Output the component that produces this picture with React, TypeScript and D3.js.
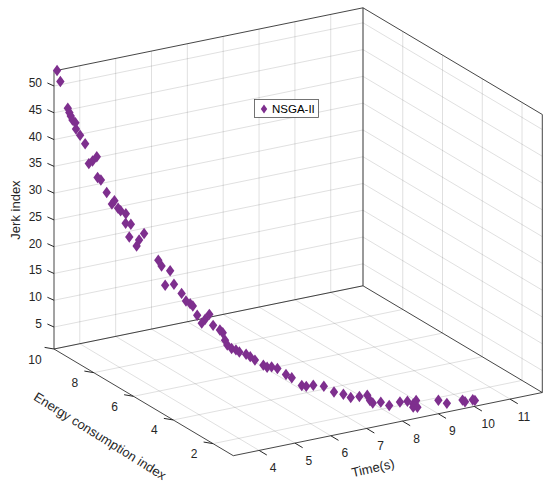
import * as d3 from "d3";

// Pareto front: time (s), energy index, jerk index
const timeS = [
  3.36, 3.38, 3.41, 3.42, 3.42, 3.43, 3.45, 3.45, 3.47, 3.5, 3.52, 3.54, 3.57, 3.57, 3.59, 3.63,
  3.67, 3.69, 3.71, 3.73, 3.77, 3.77, 3.81, 3.8, 3.86, 3.88, 3.93, 4.06, 4.09, 4.18, 4.13, 4.22,
  4.3, 4.35, 4.4, 4.43, 4.48, 4.54, 4.58, 4.63, 4.68, 4.77, 4.81, 4.84, 4.87, 4.93, 4.99, 5.04,
  5.14, 5.2, 5.27, 5.4, 5.46, 5.53, 5.63, 5.77, 5.87, 6.05, 6.13, 6.26, 6.46, 6.66, 6.85, 7.0,
  7.18, 7.35, 7.41, 7.47, 7.65, 7.84, 8.09, 8.27, 8.41, 8.48, 8.41, 8.51, 9.04, 9.26, 9.68, 9.75,
  9.96, 10.02,
];
const energyIdx = [
  9.99, 9.86, 9.54, 9.48, 9.41, 9.34, 9.23, 9.2, 9.03, 8.83, 8.68, 8.53, 8.37, 8.33, 8.2, 7.98,
  7.79, 7.7, 7.55, 7.46, 7.27, 7.28, 7.09, 7.15, 6.89, 6.8, 6.64, 6.16, 6.05, 5.78, 5.94, 5.66,
  5.42, 5.29, 5.17, 5.09, 4.96, 4.84, 4.74, 4.62, 4.52, 4.34, 4.27, 4.21, 4.15, 4.04, 3.93, 3.85,
  3.69, 3.59, 3.48, 3.29, 3.21, 3.11, 3.0, 2.82, 2.71, 2.53, 2.45, 2.33, 2.16, 2.01, 1.88, 1.78,
  1.67, 1.58, 1.55, 1.52, 1.44, 1.36, 1.27, 1.22, 1.18, 1.16, 1.18, 1.15, 1.05, 1.02, 0.99, 0.99,
  0.98, 0.98,
];
const jerkIdx = [
  52.8, 51.0, 46.7, 46.0, 45.5, 44.9, 44.6, 43.5, 42.7, 41.5, 38.1, 38.9, 40.0, 36.2, 36.0, 34.1,
  32.3, 33.1, 32.0, 31.7, 31.5, 29.7, 29.9, 27.4, 26.2, 27.5, 29.0, 24.9, 24.0, 23.6, 20.6, 21.3,
  20.0, 18.8, 18.5, 18.2, 16.7, 15.4, 16.3, 17.4, 15.5, 14.9, 14.5, 13.2, 12.4, 11.9, 11.8, 11.5,
  11.3, 11.0, 10.5, 9.8, 9.5, 9.7, 9.5, 8.6, 8.1, 6.8, 6.7, 7.0, 6.9, 5.9, 5.5, 4.9,
  5.1, 5.3, 4.3, 3.8, 3.9, 3.2, 3.7, 3.7, 3.1, 3.7, 2.5, 2.4, 3.2, 2.4, 2.5, 2.1,
  2.2, 2.0,
];

const timeTicks = [4, 5, 6, 7, 8, 9, 10, 11];
const energyTicks = [2, 4, 6, 8, 10];
const jerkTicks = [5, 10, 15, 20, 25, 30, 35, 40, 45, 50];

const timeLim: [number, number] = [3.28, 11.9];
const energyLim: [number, number] = [0.98, 10];
const jerkLim: [number, number] = [0.9, 52.8];

const seriesName = "NSGA-II";
const purple = "#7E2F8E";
const axisColor = "#262626";
const font = "'Liberation Sans', Arial, Helvetica, sans-serif";

// orthographic view: screen position of the (tmin, emin, zmin) corner and axis vectors
const origin = { x: 233.3, y: 455.7 };
const tVec = { x: 309, y: -63.2 };
const eVec = { x: -179.3, y: -106.7 };
const zLen = 278;

const tS = d3.scaleLinear().domain(timeLim).range([0, 1]);
const eS = d3.scaleLinear().domain(energyLim).range([0, 1]);
const zS = d3.scaleLinear().domain(jerkLim).range([0, 1]);

function proj(t: number, e: number, z: number): [number, number] {
  const a = tS(t), b = eS(e), c = zS(z);
  return [origin.x + a * tVec.x + b * eVec.x, origin.y + a * tVec.y + b * eVec.y - c * zLen];
}

function seg(p: [number, number], q: [number, number]) {
  return `M${p[0]},${p[1]}L${q[0]},${q[1]}`;
}

function diamond(w: number, h: number) {
  return `M0,${-h}L${w},0L0,${h}L${-w},0Z`;
}

export default function App() {
  const [t0, t1] = timeLim;
  const [e0, e1] = energyLim;
  const [z0, z1] = jerkLim;

  // grid on the floor and the two back walls
  const grid: string[] = [];
  timeTicks.forEach((t) => {
    grid.push(seg(proj(t, e0, z0), proj(t, e1, z0)));
    grid.push(seg(proj(t, e1, z0), proj(t, e1, z1)));
  });
  energyTicks.forEach((e) => {
    grid.push(seg(proj(t0, e, z0), proj(t1, e, z0)));
    grid.push(seg(proj(t1, e, z0), proj(t1, e, z1)));
  });
  jerkTicks.forEach((z) => {
    grid.push(seg(proj(t0, e1, z), proj(t1, e1, z)));
    grid.push(seg(proj(t1, e1, z), proj(t1, e0, z)));
  });

  const box = [
    seg(proj(t0, e1, z0), proj(t0, e0, z0)),
    seg(proj(t0, e0, z0), proj(t1, e0, z0)),
    seg(proj(t0, e1, z0), proj(t0, e1, z1)),
    seg(proj(t0, e1, z0), proj(t1, e1, z0)),
    seg(proj(t1, e1, z0), proj(t1, e0, z0)),
    seg(proj(t1, e1, z0), proj(t1, e1, z1)),
    seg(proj(t1, e0, z0), proj(t1, e0, z1)),
    seg(proj(t0, e1, z1), proj(t1, e1, z1)),
    seg(proj(t1, e1, z1), proj(t1, e0, z1)),
  ];

  return (
    <svg
      width={550}
      height={492}
      style={{ position: "fixed", left: 0, top: 0, background: "#fff" }}
      fontFamily={font}
    >
      <path d={grid.join("")} stroke={axisColor} strokeOpacity={0.14} strokeWidth={1} fill="none" />
      <path d={box.join("")} stroke={axisColor} strokeOpacity={0.85} strokeWidth={1} fill="none" />

      {/* jerk axis */}
      {jerkTicks.map((z) => {
        const p = proj(t0, e1, z);
        return (
          <g key={`z${z}`}>
            <path d={seg(p, [p[0] - 6.6, p[1] - 3])} stroke={axisColor} strokeWidth={1} />
            <text x={p[0] - 12} y={p[1] - 3} textAnchor="end" dominantBaseline="central" fontSize={12} fill={axisColor}>
              {z}
            </text>
          </g>
        );
      })}

      {/* energy axis */}
      {energyTicks.map((e) => {
        const p = proj(t0, e, z0);
        return (
          <g key={`e${e}`}>
            <path d={seg(p, [p[0] - 9.4, p[1] - 1.6])} stroke={axisColor} strokeWidth={1} />
            <text x={p[0] - 19} y={p[1] + 10.5} textAnchor="middle" dominantBaseline="central" fontSize={12} fill={axisColor}>
              {e}
            </text>
          </g>
        );
      })}

      {/* time axis */}
      {timeTicks.map((t) => {
        const p = proj(t, e0, z0);
        return (
          <g key={`t${t}`}>
            <path d={seg(p, [p[0] + 7.7, p[1] + 4.6])} stroke={axisColor} strokeWidth={1} />
            <text x={p[0] + 14} y={p[1] + 17.5} textAnchor="middle" dominantBaseline="central" fontSize={12} fill={axisColor}>
              {t}
            </text>
          </g>
        );
      })}

      <text transform="translate(15,210) rotate(-90)" textAnchor="middle" dominantBaseline="central" fontSize={13} fill={axisColor}>
        Jerk index
      </text>
      <text transform="translate(100,436) rotate(32)" textAnchor="middle" dominantBaseline="central" fontSize={13} fill={axisColor}>
        Energy consumption index
      </text>
      <text transform="translate(373,468) rotate(-13)" textAnchor="middle" dominantBaseline="central" fontSize={13} fill={axisColor}>
        Time(s)
      </text>

      {/* points */}
      {timeS.map((t, i) => {
        const [x, y] = proj(t, energyIdx[i], jerkIdx[i]);
        return <path key={i} d={diamond(4.2, 5.7)} transform={`translate(${x},${y})`} fill={purple} />;
      })}

      {/* legend */}
      <g transform="translate(254.5,99.5)">
        <rect width={64} height={18} fill="#fff" stroke={axisColor} strokeOpacity={0.8} strokeWidth={0.8} />
        <path d={diamond(3.2, 4.6)} transform="translate(9.5,9.5)" fill={purple} />
        <text x={17.5} y={9.5} dominantBaseline="central" fontSize={11.5} fill="#000">
          {seriesName}
        </text>
      </g>
    </svg>
  );
}
